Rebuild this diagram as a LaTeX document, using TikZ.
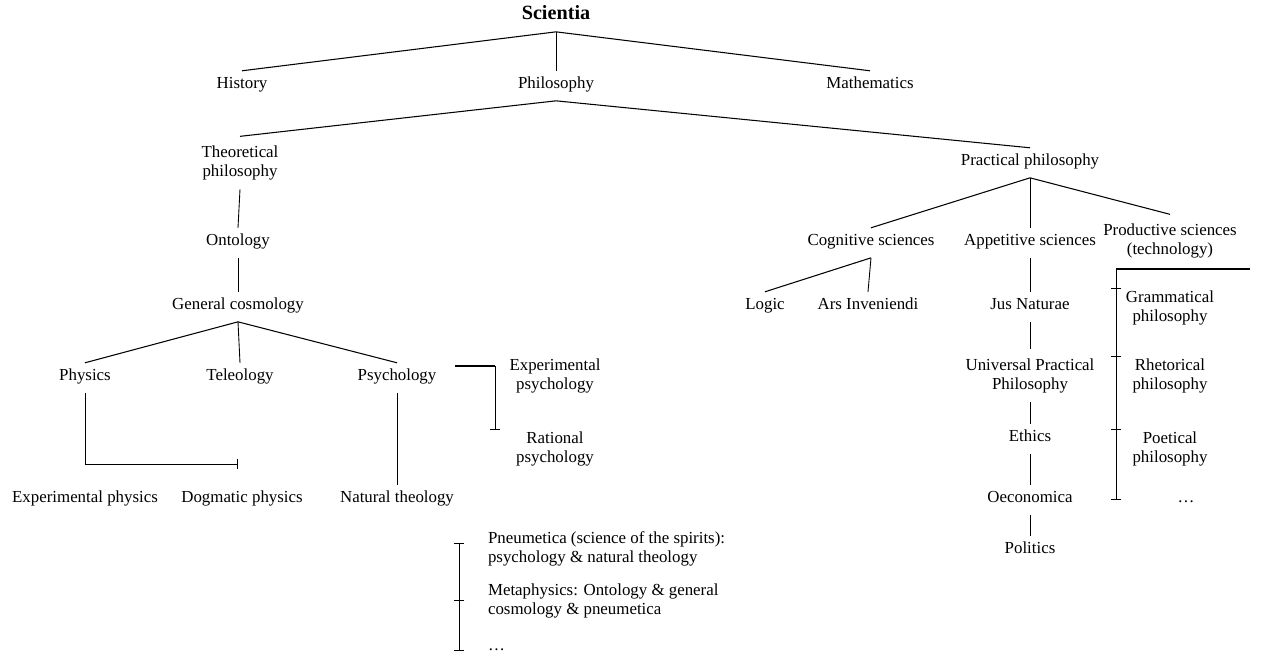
\documentclass[tikz,border=0pt]{standalone}
\usepackage{fontspec}
\setmainfont{Liberation Serif}
\usetikzlibrary{arrows.meta,positioning}

\begin{document}
\begin{tikzpicture}[x=0.02cm,y=-0.02cm,line width=0.6pt,
	lbl/.style={font=\fontsize{9.6}{10.8}\selectfont,inner xsep=2pt,inner ysep=4pt,text height=6pt,text depth=2.5pt,yshift=-1.6pt},
	lbltwo/.style={font=\fontsize{9.6}{10.8}\selectfont,align=center,inner xsep=2pt,inner ysep=5pt,yshift=-1.6pt},
	inbrk/.style={inner ysep=0.5pt},
	brk/.style={-{Bar[width=6pt]},line width=0.5pt}]
	\useasboundingbox (0,0) rectangle (1262,655);

	\node[lbl,font=\fontsize{11.5}{13}\selectfont\bfseries] (sci) at (556,14) {Scientia};

	\foreach \name/\x/\y/\txt in
		{hist/242/83/History, phil/556/83/Philosophy, math/870/83/Mathematics,
		 prac/1030/160/Practical philosophy,
		 onto/238/240/Ontology, gcos/238/304/General cosmology,
		 phys/85/375/Physics, tele/240/375/Teleology, psy/397/375/Psychology,
		 expphys/85/497/Experimental physics, dogphys/242/497/Dogmatic physics, natth/397/497/Natural theology,
		 cog/871/240/Cognitive sciences, app/1030/240/Appetitive sciences,
		 logic/765/304/Logic, ars/868/304/Ars Inveniendi,
		 jus/1030/304/Jus Naturae, eth/1030/436/Ethics,
		 oec/1030/497/Oeconomica, pol/1030/548/Politics,
		 pdots/1186/497/\dots}
		\node[lbl] (\name) at (\x,\y) {\txt};

	\foreach \name/\x/\y/\txt/\sty in
		{theo/240/160/Theoretical\\philosophy/,
		 exppsy/555/373/Experimental\\psychology/, ratpsy/555/446/Rational\\psychology/inbrk,
		 prod/1170/238/Productive sciences\\(technology)/,
		 upp/1030/373/Universal Practical\\Philosophy/,
		 gram/1170/305/Grammatical\\philosophy/inbrk, rhet/1170/373/Rhetorical\\philosophy/inbrk,
		 poet/1170/446/Poetical\\philosophy/inbrk}
		\node[lbltwo,\sty] (\name) at (\x,\y) {\txt};

	\node[lbltwo,anchor=west,align=left] (pneu) at (484,546) {Pneumetica (science of the spirits):\\psychology \& natural theology};
	\node[lbltwo,anchor=west,align=left] (meta) at (484,598) {Metaphysics: Ontology \& general\\cosmology \& pneumetica};
	\node[lbl,anchor=west] (mdots) at (484,645) {\dots};

	% tree
	\path
		(sci.south) edge (hist.north) edge[line width=0.5pt] (phil.north) edge (math.north)
		(phil.south) edge (theo.north) edge (prac.north)
		(gcos.south) edge (phys.north) edge[line width=0.5pt] (tele.north) edge (psy.north)
		(prac.south) edge (cog.north) edge[line width=0.5pt] (app.north) edge (prod.north)
		(cog.south) edge (logic.north) edge[line width=0.5pt] (ars.north);

	\foreach \a/\b in {theo/onto, onto/gcos, psy/natth, app/jus, jus/upp, upp/eth, eth/oec, oec/pol}
		\draw[line width=0.5pt] (\a.south) -- (\b.north);

	% brackets
	\coordinate (physbr) at (238,464);
	\draw[brk] (phys.south) |- (physbr);

	\coordinate (psyl) at (455,366);
	\coordinate (psyr) at (495,366);
	\draw (psyl) -- (psyr);
	\draw[brk] (psyr) -- (psyr |- ratpsy.north);

	\coordinate (prr) at (1250,269);
	\coordinate (prl) at (1116,269);
	\draw (prr) -- (prl);
	\foreach \n in {gram,rhet,poet}
		\draw[brk] (prl) -- (prl |- \n.north);
	\draw[brk] (prl) -- (prl |- pdots);

	\coordinate (bt) at (459,543);
	\coordinate (bb) at (459,651);
	\draw[brk,{Bar[width=6pt]}-{Bar[width=6pt]}] (bt) -- (bb);
	\draw[brk] (bt) -- (bt |- meta.west);
\end{tikzpicture}
\end{document}
